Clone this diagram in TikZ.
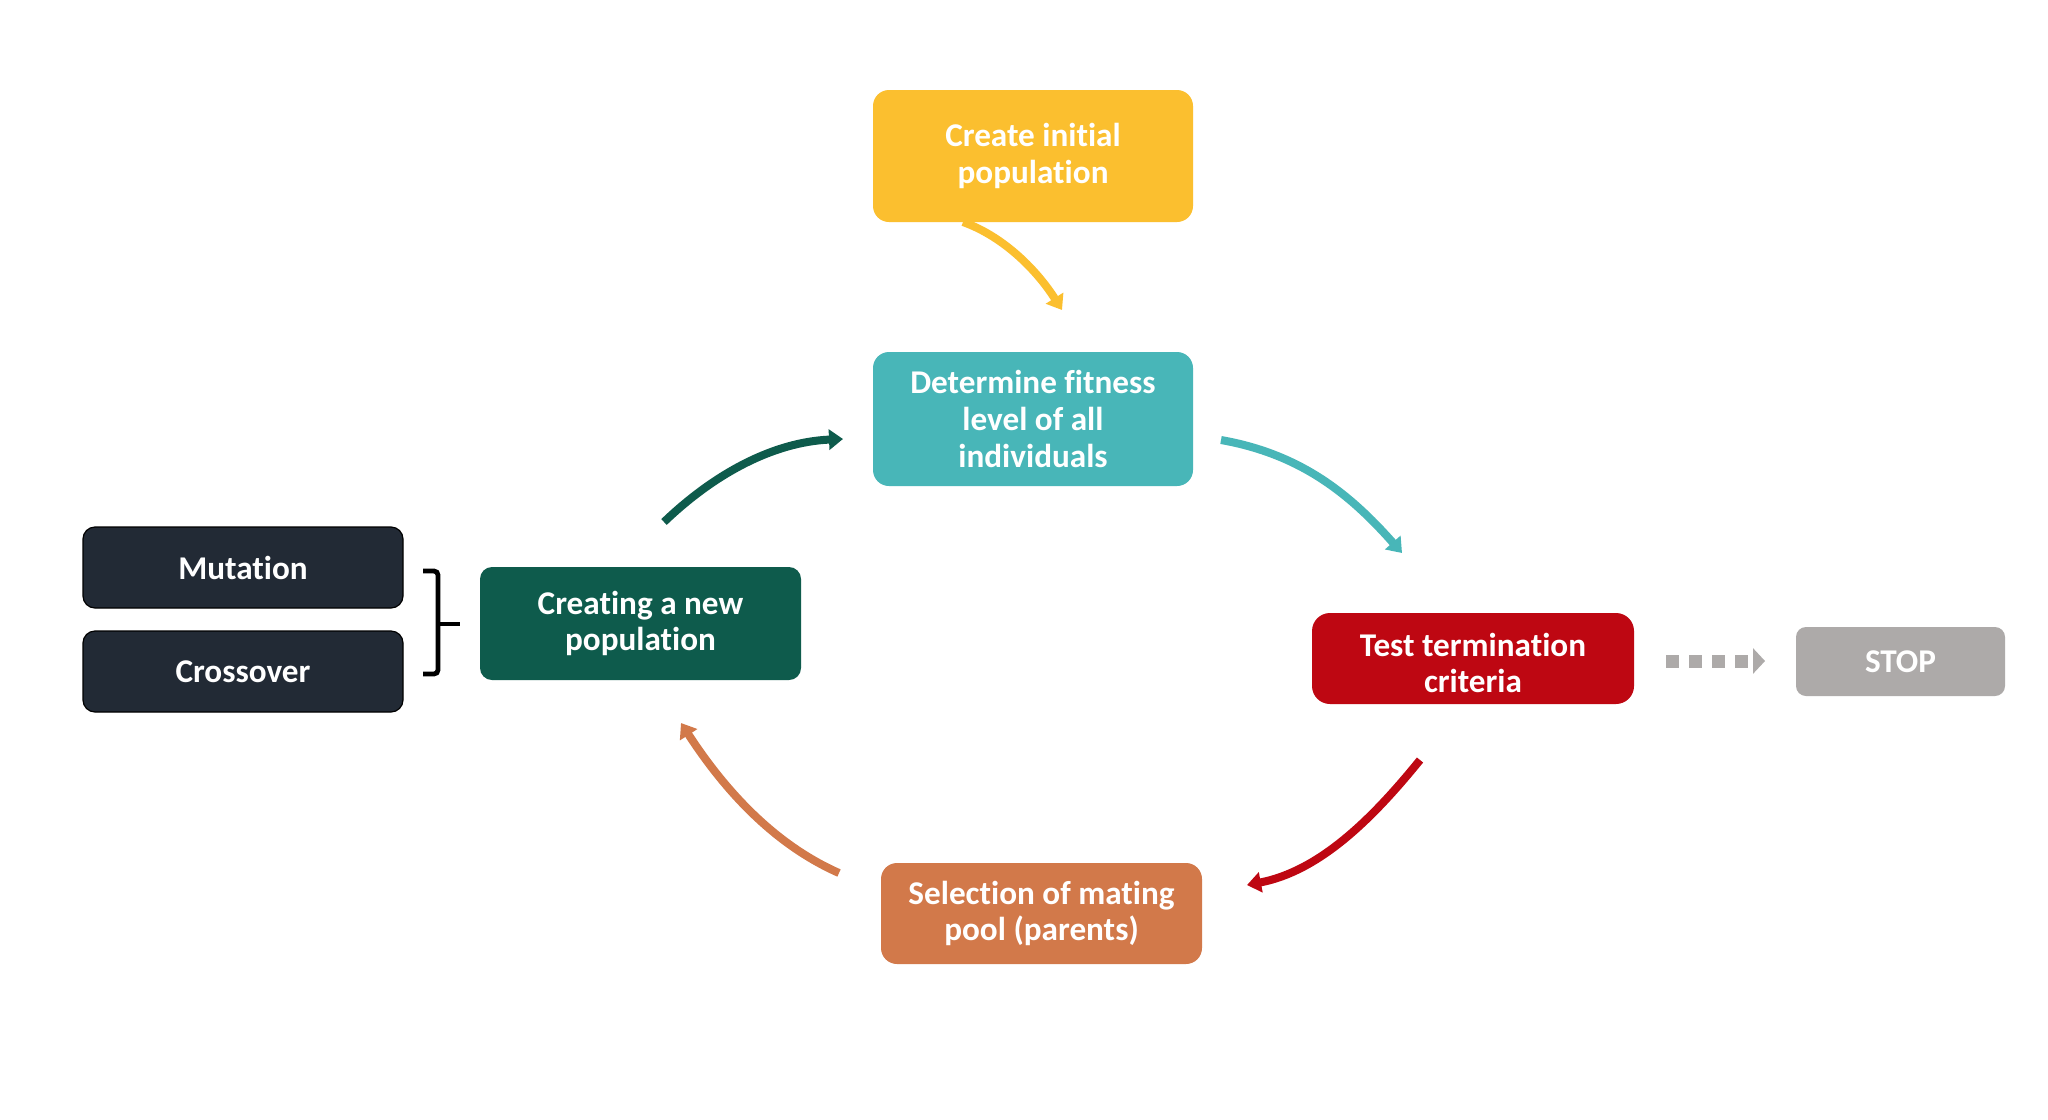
\documentclass[tikz,border=0pt]{standalone}
\usepackage{fontspec}
\setmainfont{Carlito}[Ligatures={NoCommon}]
\usetikzlibrary{arrows.meta}
\definecolor{cyellow}{HTML}{FBBF2F}
\definecolor{cteal}{HTML}{48B6B8}
\definecolor{cgreen}{HTML}{0E5B4C}
\definecolor{cred}{HTML}{BE0712}
\definecolor{corange}{HTML}{D2794A}
\definecolor{cgrey}{HTML}{ADAAA9}
\definecolor{cnavy}{HTML}{222A35}
\begin{document}
\begin{tikzpicture}[x=0.5pt,y=-0.5pt,
  box/.style={rounded corners=8pt, text=white, font=\bfseries\fontsize{16.6}{18.4}\selectfont, align=center, inner sep=0pt},
  darkbox/.style={box, fill=cnavy, draw=black, line width=0.6pt, minimum width=160pt, minimum height=40.5pt, rounded corners=6pt},
  flow/.style={line width=4pt, -{Triangle[width=10pt,length=7pt]}},
  bracket/.style={line width=2.4pt, black}
]
\fill[white] (0,0) rectangle (2048,1119);
\useasboundingbox (0,0) rectangle (2048,1119);

\node[box, fill=cyellow, minimum width=160pt, minimum height=66pt] (init) at (1033,156) {Create initial\\population};
\node[box, fill=cteal, minimum width=160pt, minimum height=67pt] (fit) at (1033,419) {Determine fitness\\level of all\\individuals};
\node[box, fill=cred, minimum width=161pt, minimum height=45.5pt, rounded corners=9pt] (test) at (1473,658.5) {\begin{tabular}{@{}c@{}}\rule{0pt}{21.5pt}Test termination\\criteria\end{tabular}};
\node[box, fill=cgrey, minimum width=104.5pt, minimum height=34.5pt, rounded corners=5pt] (stop) at (1900.5,661.5) {STOP};
\node[box, fill=corange, minimum width=160.5pt, minimum height=50.5pt] (sel) at (1041.5,913.5) {Selection of mating\\pool (parents)};
\node[box, fill=cgreen, minimum width=160.5pt, minimum height=56.5pt, rounded corners=6pt] (new) at (640.5,623.5) {Creating a new\\population};
\node[darkbox] (mut) at (243,567.5) {Mutation};
\node[darkbox] (cross) at (243,671.5) {Crossover};

% arrow end points
\coordinate (y1) at (963,222);  \coordinate (y2) at (1062,310);
\coordinate (t1) at (1221,440); \coordinate (t2) at (1402,553);
\coordinate (r1) at (1420,760); \coordinate (r2) at (1247,885);
\coordinate (o1) at (839,873);  \coordinate (o2) at (681,723);
\coordinate (g1) at (664,522);  \coordinate (g2) at (843,439);
\coordinate (d1) at (1666,661); \coordinate (d2) at (1765,661);

\draw[flow, cyellow] (y1) .. controls (1005,237) and (1038,272) .. (y2);
\draw[flow, cteal] (t1) .. controls (1300,454) and (1349,493) .. (t2);
\draw[flow, cred] (r1) .. controls (1373,818) and (1320,871) .. (r2);
\draw[flow, corange] (o1) .. controls (771,843) and (722,786) .. (o2);
\draw[flow, cgreen] (g1) .. controls (714,474) and (773,442) .. (g2);

\draw[line width=6.5pt, cgrey, dash pattern=on 6.5pt off 5pt, -{Triangle[width=12.5pt,length=6pt]}] (d1) -- (d2);

% bracket
\coordinate (b1) at (423,571); \coordinate (b2) at (438,571);
\coordinate (b3) at (438,674); \coordinate (b4) at (423,674);
\coordinate (bm) at (438,624); \coordinate (bt) at (460,624);
\draw[bracket, rounded corners=2pt] (b1) -- (b2) -- (b3) -- (b4);
\draw[bracket] (bm) -- (bt);
\end{tikzpicture}
\end{document}
